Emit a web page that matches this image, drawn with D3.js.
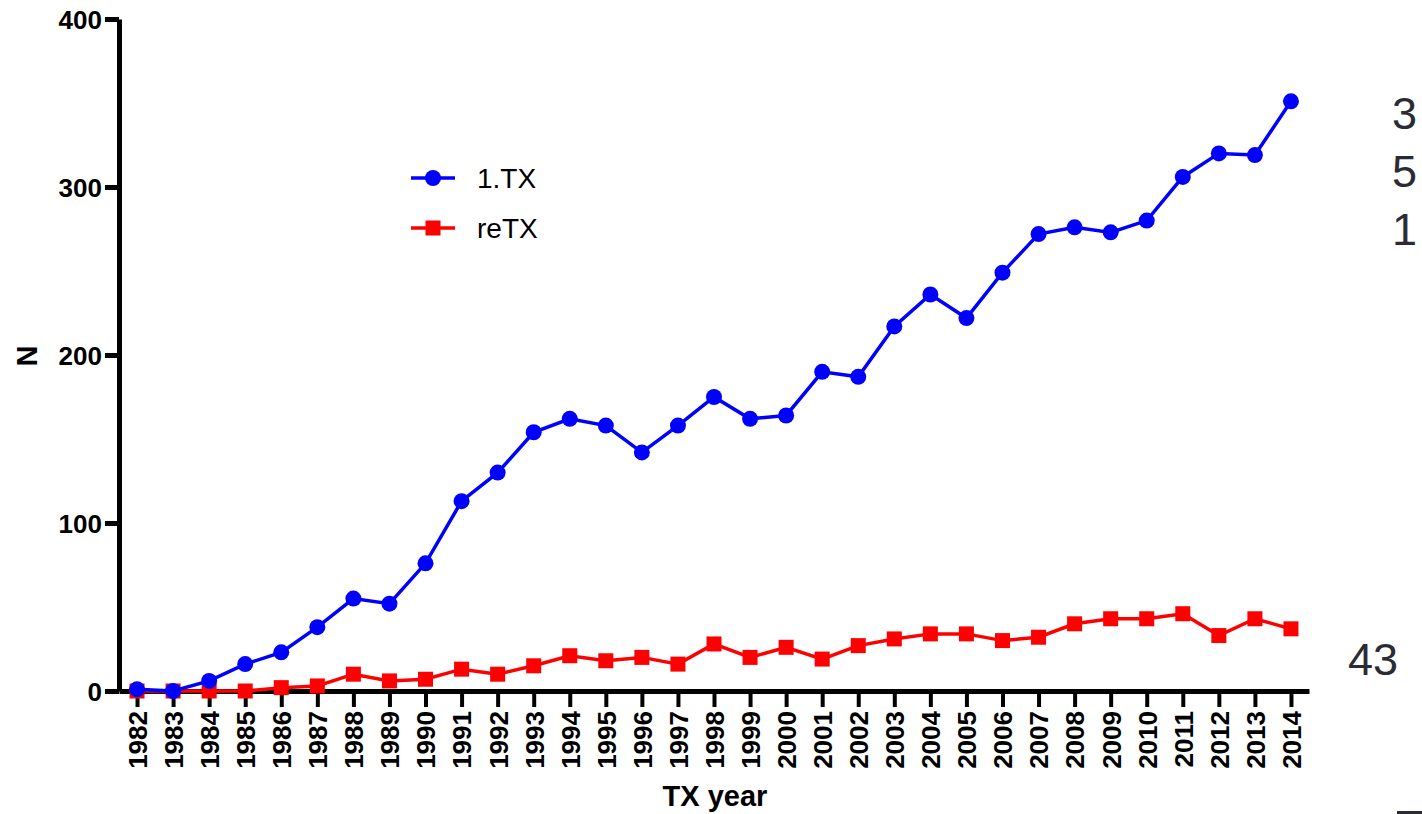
<!DOCTYPE html>
<html>
<head>
<meta charset="utf-8">
<script src="https://cdn.jsdelivr.net/npm/d3@7"></script>
<style>
  body { margin: 0; background: #fff; }
  svg { display: block; font-family: "Liberation Sans", Arial, sans-serif; }
</style>
</head>
<body>
<div id="viz"></div>
<script>
// data
var years = d3.range(1982, 2015);
var firstTX = [1, 0, 6, 16, 23, 38, 55, 52, 76, 113, 130, 154, 162, 158, 142, 158, 175, 162, 164, 190, 187, 217, 236, 222, 249, 272, 276, 273, 280, 306, 320, 319, 351];
var reTX = [0, 0, 0, 0, 2, 3, 10, 6, 7, 13, 10, 15, 21, 18, 20, 16, 28, 20, 26, 19, 27, 31, 34, 34, 30, 32, 40, 43, 43, 46, 33, 43, 37];
var yTicks = [0, 100, 200, 300, 400];
var seriesNames = ["1.TX", "reTX"];
var seriesColors = ["#0000ff", "#ff0000"];
var sideLabels = ["3", "5", "1"];
var sideLabel2 = "43";

var width = 1422;
var height = 814;

var svg = d3.select('#viz')
  .append('svg')
  .attr('width', width)
  .attr('height', height);

var x = d3.scaleLinear()
  .domain([1981.5, 2014.5])
  .range([119, 1309]);
var y = d3.scaleLinear()
  .domain([0, 400])
  .range([691, 19]);

// y axis
var yAxis = svg.append('g')
  .attr('transform', 'translate(119,0)')
  .call(d3.axisLeft(y).tickValues(yTicks).tickSize(14).tickSizeOuter(0).tickPadding(3));
yAxis.select('.domain').attr('stroke', '#000').attr('stroke-width', 5);
yAxis.selectAll('.tick line').attr('stroke', '#000').attr('stroke-width', 5);
yAxis.selectAll('.tick text')
  .attr('fill', '#000')
  .style('font-size', '26px')
  .style('font-weight', 'bold')
  .attr('dy', '0.36em');

// x axis
var xAxis = svg.append('g')
  .attr('transform', 'translate(0,691)')
  .call(d3.axisBottom(x).tickValues(years).tickFormat(d3.format('d')).tickSize(16).tickSizeOuter(0));
xAxis.select('.domain').attr('stroke', '#000').attr('stroke-width', 5);
xAxis.selectAll('.tick line').attr('stroke', '#000').attr('stroke-width', 4);
xAxis.selectAll('.tick text')
  .attr('fill', '#000')
  .style('font-size', '26px')
  .style('font-weight', 'bold')
  .attr('transform', 'rotate(-90)')
  .attr('text-anchor', 'end')
  .attr('x', -20)
  .attr('y', 0)
  .attr('dy', '0.36em');

// axis titles
svg.append('text')
  .attr('x', 715)
  .attr('y', 806)
  .attr('text-anchor', 'middle')
  .style('font-size', '29px')
  .style('font-weight', 'bold')
  .text('TX year');
svg.append('text')
  .attr('transform', 'translate(37,356) rotate(-90)')
  .attr('text-anchor', 'middle')
  .style('font-size', '29px')
  .style('font-weight', 'bold')
  .text('N');

var line = d3.line()
  .x((d, i) => x(years[i]))
  .y(d => y(d));

// reTX
svg.append('path')
  .datum(reTX)
  .attr('fill', 'none')
  .attr('stroke', seriesColors[1])
  .attr('stroke-width', 3.5)
  .attr('d', line);
svg.append('g')
  .selectAll('rect')
  .data(reTX)
  .join('rect')
  .attr('fill', seriesColors[1])
  .attr('x', (d, i) => x(years[i]) - 7.5)
  .attr('y', d => y(d) - 7.5)
  .attr('width', 15)
  .attr('height', 15);

// 1.TX
svg.append('path')
  .datum(firstTX)
  .attr('fill', 'none')
  .attr('stroke', seriesColors[0])
  .attr('stroke-width', 3.5)
  .attr('d', line);
svg.append('g')
  .selectAll('circle')
  .data(firstTX)
  .join('circle')
  .attr('fill', seriesColors[0])
  .attr('cx', (d, i) => x(years[i]))
  .attr('cy', d => y(d))
  .attr('r', 8);

// legend
var legend = svg.append('g').attr('transform', 'translate(411,178)');
seriesNames.forEach(function(name, i){
  var g = legend.append('g').attr('transform', 'translate(0,' + (i * 50) + ')');
  g.append('line')
    .attr('x1', 0).attr('x2', 44)
    .attr('stroke', seriesColors[i])
    .attr('stroke-width', 3.5);
  if (i === 0) {
    g.append('circle').attr('cx', 22).attr('r', 8).attr('fill', seriesColors[i]);
  } else {
    g.append('rect').attr('x', 14.5).attr('y', -7.5).attr('width', 15).attr('height', 15).attr('fill', seriesColors[i]);
  }
  g.append('text')
    .attr('x', 66)
    .attr('dy', '0.36em')
    .style('font-size', '28px')
    .text(name);
});

// stray labels on the right edge
svg.append('g')
  .selectAll('text')
  .data(sideLabels)
  .join('text')
  .attr('x', 1392)
  .attr('y', (d, i) => 129 + i * 58)
  .attr('fill', '#2b2b35')
  .style('font-size', '45px')
  .text(d => d);
svg.append('text')
  .attr('x', 1348)
  .attr('y', 675)
  .attr('fill', '#2b2b35')
  .style('font-size', '45px')
  .text(sideLabel2);
svg.append('rect')
  .attr('x', 1397)
  .attr('y', 811)
  .attr('width', 25)
  .attr('height', 3)
  .attr('fill', '#2b2b35');
</script>
</body>
</html>
